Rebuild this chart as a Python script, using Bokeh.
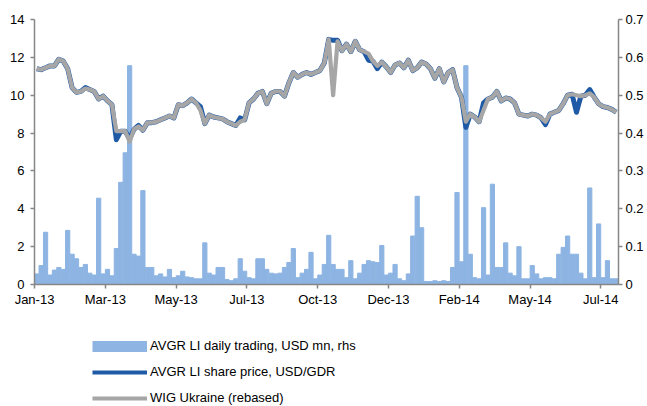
import numpy as np
from bokeh.plotting import figure
from bokeh.layouts import column
from bokeh.models import (Range1d, LinearAxis, FixedTicker, Legend, LegendItem,
                          NumeralTickFormatter)
from bokeh.embed import file_html
from bokeh.resources import INLINE

# ---- data (one value per ~3 trading days, Jan-2013 .. Jul-2014) ----
tick_labels = ["Jan-13", "Mar-13", "May-13", "Jul-13", "Oct-13", "Dec-13",
               "Feb-14", "May-14", "Jul-14"]
tick_every = 16  # periods between labelled ticks

# AVGR LI daily trading, USD mn (rhs)
trading = [0.028, 0.050, 0.138, 0.025, 0.038, 0.045, 0.040, 0.143, 0.080, 0.068,
           0.045, 0.053, 0.030, 0.025, 0.228, 0.028, 0.040, 0.023, 0.095, 0.270,
           0.348, 0.578, 0.080, 0.075, 0.248, 0.045, 0.045, 0.023, 0.028, 0.020,
           0.040, 0.018, 0.023, 0.035, 0.020, 0.018, 0.015, 0.015, 0.110, 0.030,
           0.025, 0.045, 0.045, 0.013, 0.010, 0.015, 0.068, 0.035, 0.018, 0.015,
           0.068, 0.068, 0.040, 0.030, 0.028, 0.030, 0.045, 0.058, 0.095, 0.018,
           0.030, 0.040, 0.085, 0.015, 0.025, 0.053, 0.130, 0.053, 0.040, 0.040,
           0.018, 0.063, 0.015, 0.030, 0.053, 0.063, 0.060, 0.058, 0.103, 0.025,
           0.030, 0.053, 0.015, 0.010, 0.028, 0.128, 0.233, 0.150, 0.008, 0.008,
           0.010, 0.008, 0.010, 0.008, 0.045, 0.243, 0.060, 0.578, 0.080, 0.018,
           0.015, 0.203, 0.025, 0.265, 0.045, 0.045, 0.110, 0.030, 0.023, 0.100,
           0.015, 0.015, 0.050, 0.028, 0.015, 0.018, 0.018, 0.015, 0.080, 0.098,
           0.128, 0.080, 0.080, 0.030, 0.015, 0.255, 0.018, 0.160, 0.018, 0.063,
           0.015, 0.015]

# WIG Ukraine (rebased)
wig = [11.40, 11.35, 11.45, 11.55, 11.55, 11.90, 11.80, 11.40, 10.40, 10.15,
       10.20, 10.35, 10.30, 10.20, 9.80, 9.95, 9.70, 9.50, 8.10, 8.10,
       8.10, 7.55, 8.20, 8.35, 8.15, 8.55, 8.55, 8.60, 8.70, 8.80,
       8.90, 8.80, 9.50, 9.45, 9.60, 9.80, 9.60, 9.20, 8.50, 8.95,
       8.85, 8.80, 8.75, 8.60, 8.50, 8.40, 8.60, 8.70, 9.60, 9.80,
       10.10, 10.20, 9.55, 10.10, 10.20, 10.20, 9.95, 10.65, 11.20, 10.95,
       11.10, 11.20, 11.10, 11.20, 11.30, 11.70, 12.95, 10.00, 12.85, 12.35,
       12.70, 12.30, 12.85, 12.40, 12.30, 12.20, 11.80, 11.55, 11.75, 11.50,
       11.20, 11.60, 11.70, 11.45, 11.85, 11.30, 11.45, 11.75, 11.65, 11.40,
       10.90, 11.40, 10.70, 11.20, 11.35, 10.40, 9.90, 8.60, 9.00, 8.85,
       8.60, 9.20, 9.80, 9.90, 10.20, 9.70, 9.85, 9.80, 9.60, 9.00,
       8.95, 8.90, 9.00, 8.95, 8.80, 8.60, 9.00, 9.10, 9.20, 9.55,
       10.00, 10.05, 10.00, 9.95, 10.00, 10.10, 9.90, 9.55, 9.40, 9.35,
       9.25, 9.10]

# AVGR LI share price, USD/GDR
price = [11.40, 11.35, 11.45, 11.55, 11.55, 11.90, 11.80, 11.40, 10.40, 10.15,
         10.20, 10.40, 10.30, 10.20, 9.80, 9.95, 9.70, 9.50, 7.65, 8.10,
         8.10, 7.70, 8.20, 8.40, 8.15, 8.55, 8.55, 8.60, 8.70, 8.80,
         8.90, 8.80, 9.50, 9.45, 9.60, 9.80, 9.60, 9.40, 8.50, 8.95,
         8.85, 8.80, 8.75, 8.60, 8.50, 8.40, 8.80, 8.70, 9.60, 9.80,
         10.10, 10.20, 9.55, 10.10, 10.20, 10.20, 9.95, 10.65, 11.20, 10.95,
         11.10, 11.20, 11.10, 11.20, 11.30, 11.70, 12.95, 12.90, 12.90, 12.35,
         12.70, 12.30, 12.85, 12.40, 12.30, 11.85, 11.80, 11.40, 11.75, 11.50,
         11.20, 11.60, 11.70, 11.45, 11.85, 11.30, 11.45, 11.75, 11.65, 11.40,
         10.90, 11.40, 10.70, 11.20, 11.35, 10.40, 9.90, 8.30, 9.00, 8.85,
         8.60, 9.60, 9.80, 9.90, 10.20, 9.70, 9.85, 9.80, 9.60, 9.00,
         8.95, 8.90, 9.00, 8.95, 8.80, 8.45, 9.00, 9.10, 9.20, 9.55,
         10.00, 10.05, 9.10, 9.95, 10.00, 10.30, 9.90, 9.55, 9.40, 9.35,
         9.25, 9.10]

series_names = ["AVGR LI daily trading, USD mn, rhs",
                "AVGR LI share price, USD/GDR",
                "WIG Ukraine (rebased)"]

n = len(trading)
xs = np.arange(n) + 0.5
tick_pos = [k * tick_every for k in range(len(tick_labels))]

FONT = "Liberation Sans"
AXIS_COLOR = "#868686"
BAR_COLOR = "#8DB4E2"
PRICE_COLOR = "#1F5AA6"
WIG_COLOR = "#A6A6A6"

p = figure(width=647, height=310, output_backend="svg", toolbar_location=None,
           x_range=Range1d(0, n), y_range=Range1d(0, 14),
           min_border_left=34, min_border_top=19, min_border_bottom=26,
           min_border_right=29)
p.extra_y_ranges = {"rhs": Range1d(0, 0.7)}
p.outline_line_color = None
p.xgrid.visible = False
p.ygrid.visible = False

bars = p.vbar(x=xs, top=trading, width=0.95, y_range_name="rhs",
              fill_color=BAR_COLOR, line_color=BAR_COLOR, line_width=1)
l_price = p.line(xs, price, line_color=PRICE_COLOR, line_width=5,
                 line_join="round")
l_wig = p.line(xs, wig, line_color=WIG_COLOR, line_width=4.2,
               line_join="round")


def style_axis(ax):
    ax.axis_line_color = AXIS_COLOR
    ax.axis_line_width = 1.5
    ax.major_tick_line_color = AXIS_COLOR
    ax.major_tick_line_width = 1.5
    ax.major_tick_in = 0
    ax.major_tick_out = 4
    ax.minor_tick_line_color = None
    ax.major_label_text_font = FONT
    ax.major_label_text_font_size = "13px"
    ax.major_label_text_color = "#000000"


xa = p.xaxis[0]
xa.ticker = FixedTicker(ticks=tick_pos)
xa.major_label_overrides = {t: lab for t, lab in zip(tick_pos, tick_labels)}
xa.major_label_standoff = 3
style_axis(xa)

ya = p.yaxis[0]
ya.ticker = FixedTicker(ticks=[0, 2, 4, 6, 8, 10, 12, 14])
ya.major_label_standoff = 6
style_axis(ya)

ra = LinearAxis(y_range_name="rhs",
                ticker=FixedTicker(ticks=[0, 0.1, 0.2, 0.3, 0.4, 0.5, 0.6, 0.7]),
                formatter=NumeralTickFormatter(format="0.[0]"))
ra.major_label_standoff = 3
style_axis(ra)
p.add_layout(ra, "right")

# ---- legend panel below the chart (swatches only, no visible data) ----
lg = figure(width=647, height=96, output_backend="svg", toolbar_location=None,
            x_axis_location=None, y_axis_location=None,
            x_range=Range1d(0, 1), y_range=Range1d(0, 1), min_border=0)
lg.outline_line_color = None
lg.xgrid.visible = False
lg.ygrid.visible = False
sw_bar = lg.line(x=[np.nan], y=[np.nan], line_color=BAR_COLOR, line_width=11)
sw_price = lg.line(x=[np.nan], y=[np.nan], line_color=PRICE_COLOR, line_width=4)
sw_wig = lg.line(x=[np.nan], y=[np.nan], line_color=WIG_COLOR, line_width=4)

legend = Legend(items=[
    LegendItem(label=series_names[0], renderers=[sw_bar]),
    LegendItem(label=series_names[1], renderers=[sw_price]),
    LegendItem(label=series_names[2], renderers=[sw_wig]),
], location=(58, 1))
legend.border_line_color = None
legend.background_fill_alpha = 0
legend.label_text_font = FONT
legend.label_text_font_size = "13px"
legend.label_text_color = "#000000"
legend.glyph_width = 55
legend.glyph_height = 14
legend.label_height = 14
legend.label_standoff = 3
legend.spacing = 11
legend.padding = 0
legend.margin = 0
lg.add_layout(legend)

page = column(p, lg, spacing=0)
open("out.html", "w").write(file_html(page, INLINE))
